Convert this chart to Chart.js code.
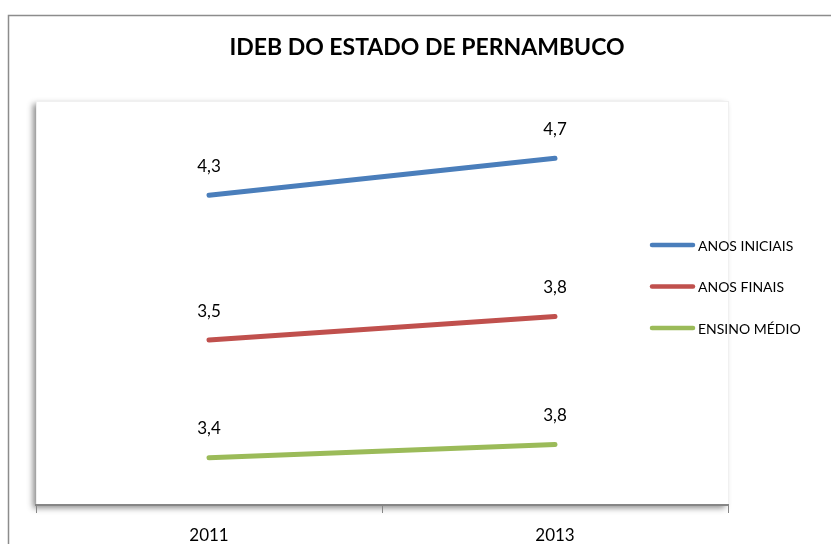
<!DOCTYPE html>
<html>
<head>
<meta charset="utf-8">
<script src="https://cdn.jsdelivr.net/npm/chart.js@4.4.0/dist/chart.umd.min.js"></script>
<style>
  html, body { margin: 0; padding: 0; background: #fff; }
  #wrap { width: 831px; height: 544px; }
</style>
</head>
<body>
<div id="wrap"><canvas id="ideb"></canvas></div>
<script>
// categories and series
var years = ["2011", "2013"];
var seriesNames = ["ANOS INICIAIS", "ANOS FINAIS", "ENSINO MÉDIO"];
var anosIniciais = [4.3, 4.7];
var anosFinais = [3.5, 3.8];
var ensinoMedio = [3.4, 3.8];
var chartTitle = "IDEB DO ESTADO DE PERNAMBUCO";

var FONT = "Lato, 'Open Sans', sans-serif";

/*
 * frame, plot area shadow and title, drawn before the chart
 */
var framePlugin = {
    id: "frame",
    beforeDraw: function(chart) {
        var ctx = chart.ctx;
        var a = chart.chartArea;
        ctx.save();
        ctx.fillStyle = "#fff";
        ctx.fillRect(0, 0, chart.width, chart.height);

        // outer border (runs off the right and bottom edges)
        ctx.strokeStyle = "#8c8c8c";
        ctx.lineWidth = 1.5;
        ctx.strokeRect(8.5, 15.5, chart.width + 20, chart.height + 20);

        // plot area with a soft shadow on the left and bottom
        ctx.shadowColor = "rgba(0,0,0,0.45)";
        ctx.shadowBlur = 6;
        ctx.shadowOffsetX = -3;
        ctx.shadowOffsetY = 3;
        ctx.fillStyle = "#fff";
        ctx.fillRect(a.left, a.top, a.right - a.left, a.bottom - a.top);
        ctx.shadowColor = "transparent";
        ctx.strokeStyle = "#f0f0f0";
        ctx.lineWidth = 1;
        ctx.strokeRect(a.left + 0.5, a.top + 0.5, a.right - a.left, a.bottom - a.top);

        // title
        ctx.fillStyle = "#000";
        ctx.font = "bold 23px " + FONT;
        ctx.textAlign = "center";
        ctx.textBaseline = "middle";
        ctx.fillText(chartTitle, 427, 48);
        ctx.restore();
    },
    afterDatasetsDraw: function(chart) {
        var ctx = chart.ctx;
        ctx.save();
        ctx.fillStyle = "#000";
        ctx.font = "17px " + FONT;
        ctx.textAlign = "center";
        ctx.textBaseline = "middle";
        chart.data.datasets.forEach(function(ds, i) {
            chart.getDatasetMeta(i).data.forEach(function(pt, j) {
                var txt = String(ds.data[j]).replace(".", ",");
                ctx.fillText(txt, pt.x, pt.y - 29);
            });
        });

        // legend on the right, in the order of the reference
        var a = chart.chartArea;
        ctx.font = "14px " + FONT;
        ctx.textAlign = "left";
        ctx.lineCap = "round";
        ctx.lineWidth = 4.5;
        seriesNames.forEach(function(name, k) {
            var ds = chart.data.datasets.find(function(d) { return d.label === name; });
            var y = 245 + k * 41.5;
            ctx.strokeStyle = ds.borderColor;
            ctx.beginPath();
            ctx.moveTo(a.right - 76, y);
            ctx.lineTo(a.right - 35, y);
            ctx.stroke();
            ctx.fillText(name, a.right - 30, y + 1);
        });
        ctx.restore();
    }
};

var ctx = document.getElementById("ideb").getContext("2d");

// stacked: the lowest series is drawn first
var dat = {
    labels: years,
    datasets: [
        { label: seriesNames[2], data: ensinoMedio, borderColor: "#9BBB59" },
        { label: seriesNames[1], data: anosFinais, borderColor: "#C0504D" },
        { label: seriesNames[0], data: anosIniciais, borderColor: "#4A7EBB" }
    ]
};
dat.datasets.forEach(function(d) {
    d.borderWidth = 5;
    d.borderCapStyle = "round";
    d.pointRadius = 0;
    d.fill = false;
    d.tension = 0;
});

var myChart = new Chart(ctx, {
    type: "line",
    data: dat,
    options: {
        responsive: true,
        maintainAspectRatio: false,
        animation: false,
        layout: { padding: { left: 36, right: 103, top: 101, bottom: 0 } },
        plugins: {
            legend: { display: false },
            title: { display: false },
            tooltip: { enabled: false }
        },
        scales: {
            x: {
                offset: true,
                afterFit: function(scale) { scale.height = 39; },
                grid: {
                    offset: true,
                    drawOnChartArea: false,
                    drawTicks: true,
                    tickLength: 8,
                    color: "#868686"
                },
                border: { color: "#868686", width: 2 },
                ticks: {
                    padding: 12,
                    color: "#000",
                    font: { family: FONT, size: 17 }
                }
            },
            y: {
                display: false,
                stacked: true,
                min: 2,
                max: 14
            }
        }
    },
    plugins: [framePlugin]
});
</script>
</body>
</html>
